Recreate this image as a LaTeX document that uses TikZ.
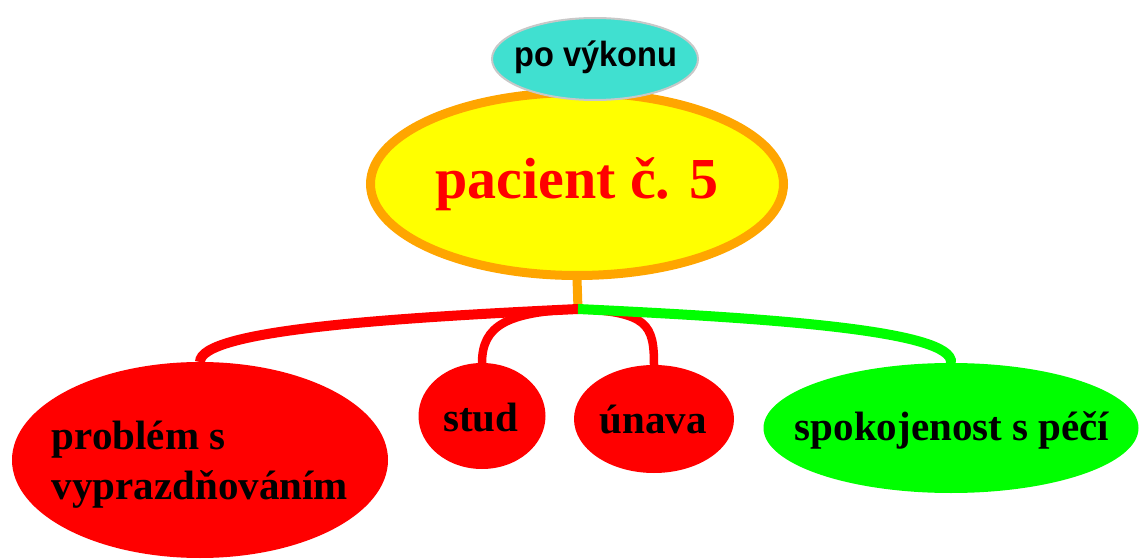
\documentclass[tikz,border=0pt]{standalone}
\usepackage{fontspec}
\setmainfont{Liberation Serif}
\setsansfont{Liberation Sans}
\usetikzlibrary{shapes.geometric}
\definecolor{turq}{HTML}{40E0D0}
\definecolor{ornge}{HTML}{FFA500}
\definecolor{yel}{HTML}{FFFF00}
\definecolor{rd}{HTML}{FF0000}
\definecolor{grn}{HTML}{00FF00}
\definecolor{gborder}{HTML}{C8C8C8}
\tikzset{
  bubble/.style={ellipse, inner sep=0pt, outer sep=0pt},
  lbl/.style={font=\bfseries\fontsize{41}{50}\selectfont, text=black, inner sep=0pt},
  conn/.style={line width=10pt},
  connsmall/.style={line width=8.5pt}
}
\begin{document}
\begin{tikzpicture}[x=1pt,y=-1pt]
\useasboundingbox (0,0) rectangle (1144,559);
% main node
\node[bubble, fill=yel, draw=ornge, line width=9pt, minimum width=413pt, minimum height=183pt] (root) at (577,184) {};
\node[font=\bfseries\fontsize{58}{58}\selectfont, text=rd, anchor=base, inner sep=0pt] (troot) at (577,198) {pacient č. 5};
% top label
\node[bubble, fill=turq, draw=gborder, line width=2pt, minimum width=206pt, minimum height=82pt] (top) at (595,59) {};
\node[font=\sffamily\bfseries, anchor=base, inner sep=0pt] (ttop) at (596,67) {\scalebox{0.93}[1]{\fontsize{35}{35}\selectfont po výkonu}};
% children
\node[bubble, fill=rd, minimum width=376pt, minimum height=196pt] (prob) at (200,460) {};
\node[lbl, align=left] (tprob) at (200,465) {problém s\\vyprazdňováním};
\node[bubble, fill=rd, minimum width=127pt, minimum height=106pt] (stud) at (482,416) {};
\node[lbl, anchor=base] (tstud) at (481,431) {stud};
\node[bubble, fill=rd, minimum width=160pt, minimum height=108pt] (unava) at (654,419) {};
\node[lbl, anchor=base] (tunava) at (653,433) {únava};
\node[bubble, fill=grn, minimum width=375pt, minimum height=130pt] (spok) at (951,428) {};
\node[lbl, anchor=base] (tspok) at (952,440) {spokojenost s péčí};
% connectors
\coordinate (J) at (578,309);
\draw[ornge, line width=9pt] ([yshift=-3pt]root.south) -- (J);
\draw[rd, conn] (J) .. controls (390,318) and (200,330) .. (prob.north);
\draw[rd, connsmall] (J) .. controls (508,312) and (482,325) .. (stud.north);
\draw[rd, connsmall] (J) .. controls (648,312) and (654,325) .. (unava.north);
\draw[grn, conn] (J) .. controls (766,318) and (955,330) .. (spok.north);
\end{tikzpicture}
\end{document}
